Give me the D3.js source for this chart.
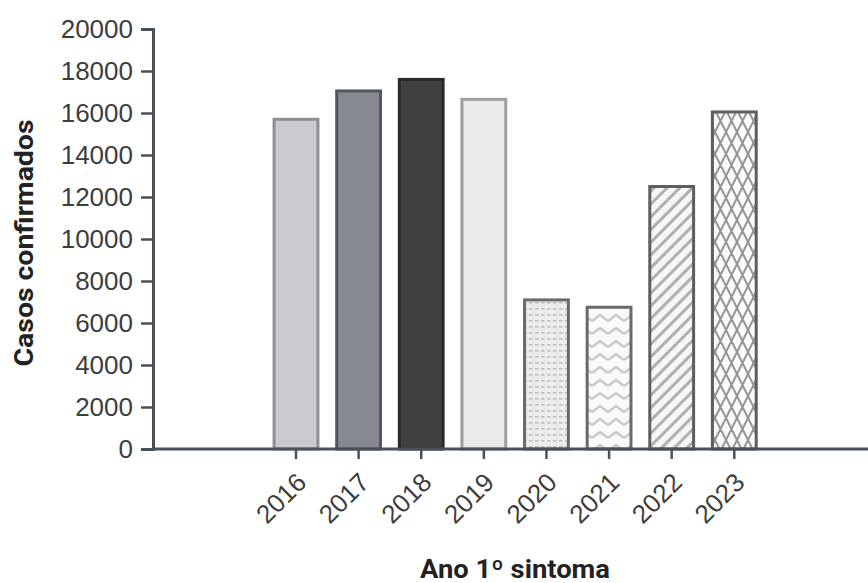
<!DOCTYPE html>
<html><head><meta charset="utf-8">
<script src="https://cdn.jsdelivr.net/npm/d3@7"></script>
<style>body{margin:0;background:#fff;} svg{display:block;font-family:Roboto,"Liberation Sans",sans-serif;}</style>
</head><body><svg id="c" width="868" height="583"></svg>
<script>
const years = ["2016","2017","2018","2019","2020","2021","2022","2023"];
const cases = [15700, 17050, 17600, 16650, 7100, 6750, 12500, 16050];
const yTicks = [0,2000,4000,6000,8000,10000,12000,14000,16000,18000,20000];
const fills = ["#c9cbcf","#868991","#404040","#e9eaec","url(#pDots)","url(#pZig)","url(#pDiag)","url(#pCross)"];
const strokes = ["#8c8f94","#54575d","#2b2b2b","#9d9ea1","#6a6a6a","#6a6a6a","#5e5e5e","#5e5e5e"];

const svg = d3.select("#c");
const defs = svg.append("defs");
// dots pattern
const pd = defs.append("pattern").attr("id","pDots").attr("patternUnits","userSpaceOnUse").attr("width",6).attr("height",6);
pd.append("rect").attr("width",6).attr("height",6).attr("fill","#ececed");
pd.append("rect").attr("x",1).attr("y",2).attr("width",3.5).attr("height",1.6).attr("fill","#bdbec0");
// zigzag
const pz = defs.append("pattern").attr("id","pZig").attr("patternUnits","userSpaceOnUse").attr("width",16).attr("height",13);
pz.append("rect").attr("width",16).attr("height",13).attr("fill","#fafafa");
pz.append("path").attr("d","M0,9 L8,3 L16,9").attr("fill","none").attr("stroke","#cacacc").attr("stroke-width",2.4);
// diagonal stripes
const pg = defs.append("pattern").attr("id","pDiag").attr("patternUnits","userSpaceOnUse").attr("width",9).attr("height",9).attr("patternTransform","rotate(45)");
pg.append("rect").attr("width",9).attr("height",9).attr("fill","#f6f6f6");
pg.append("rect").attr("x",0).attr("y",0).attr("width",3).attr("height",9).attr("fill","#b0b0b2");
// crosshatch diamonds
const pc = defs.append("pattern").attr("id","pCross").attr("patternUnits","userSpaceOnUse").attr("width",11).attr("height",22);
pc.append("rect").attr("width",11).attr("height",22).attr("fill","#fbfbfb");
pc.append("path").attr("d","M0,0 L11,22 M11,0 L0,22 M-5.5,11 L0,22 M5.5,-11 L16.5,11 M11,22 L16.5,11 M-5.5,11 L0,0 M11,0 L16.5,11 M0,22 L5.5,33 M11,22 L5.5,33")
  .attr("fill","none").attr("stroke","#949598").attr("stroke-width",2);

const y = d3.scaleLinear().domain([0,20000]).range([449,29]);
const x = d3.scaleBand().domain(years).range([255.3,775]).paddingInner(0.3).paddingOuter(0.3);
const axisColor = "#4a5159";

// bars
svg.append("g").selectAll("rect").data(years).join("rect")
  .attr("x", d=>x(d)).attr("width", x.bandwidth())
  .attr("y", (d,i)=>y(cases[i])).attr("height",(d,i)=>y(0)-y(cases[i]))
  .attr("fill",(d,i)=>fills[i]).attr("stroke",(d,i)=>strokes[i]).attr("stroke-width",3);

// y axis
const ya = svg.append("g").attr("transform","translate(153,0)")
  .call(d3.axisLeft(y).tickValues(yTicks).tickFormat(d3.format("d")).tickSize(12).tickPadding(8));
ya.select(".domain").attr("stroke",axisColor).attr("stroke-width",3);
ya.selectAll(".tick line").attr("stroke",axisColor).attr("stroke-width",2.5);
ya.selectAll(".tick text").attr("fill","#3d3d3d").style("font-size","26px").style("font-weight",300);

// x axis
const xa = svg.append("g").attr("transform","translate(0,449)")
  .call(d3.axisBottom(x).tickSize(10).tickSizeOuter(0));
xa.select(".domain").attr("d","M153,0H868").attr("stroke",axisColor).attr("stroke-width",3);
xa.selectAll(".tick line").attr("stroke",axisColor).attr("stroke-width",2.5);
xa.selectAll(".tick text").attr("fill","#3d3d3d").style("font-size","26px").style("font-weight",300)
  .attr("text-anchor","end").attr("dy",null).attr("y",null)
  .attr("transform","translate(12,35) rotate(-45)");

// titles
svg.append("text").attr("transform","translate(33,243) rotate(-90)").attr("text-anchor","middle")
  .style("font-size","26px").style("font-weight",700).attr("fill","#222")
  .attr("textLength",247).attr("lengthAdjust","spacingAndGlyphs").text("Casos confirmados");
svg.append("text").attr("x",515).attr("y",578).attr("text-anchor","middle")
  .style("font-size","26px").style("font-weight",700).attr("fill","#222")
  .attr("textLength",190).attr("lengthAdjust","spacingAndGlyphs").text("Ano 1º sintoma");
</script></body></html>
